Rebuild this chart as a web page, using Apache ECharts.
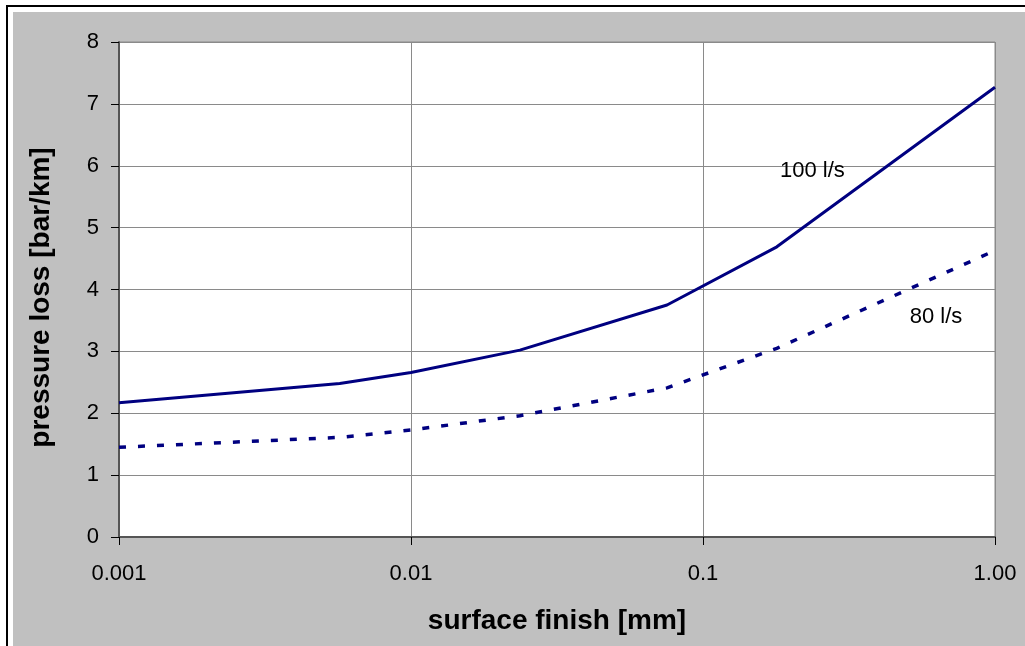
<!DOCTYPE html>
<html>
<head>
<meta charset="utf-8">
<script src="https://cdn.jsdelivr.net/npm/echarts@6/dist/echarts.min.js"></script>
<style>
  html, body { margin: 0; padding: 0; background: #fff; }
  #wrap { position: absolute; left: 0; top: 0; width: 1025px; height: 646px; overflow: hidden; background: #fff; }
  #frame { position: absolute; left: 6px; top: 5px; width: 1200px; height: 900px; border: 2px solid #000; }
  #panel { position: absolute; left: 13px; top: 12px; width: 1200px; height: 900px; background: #c0c0c0; }
  #chart { position: absolute; left: 0; top: 0; width: 1025px; height: 646px; }
</style>
</head>
<body>
<div id="wrap">
  <div id="frame"></div>
  <div id="panel"></div>
  <div id="chart"></div>
</div>
<script>
// Pressure loss per km versus pipe surface finish, for two flow rates
const roughness = [0.001, 0.0057, 0.01, 0.0236, 0.0753, 0.179, 1.0];   // mm
const loss100 = [2.17, 2.48, 2.66, 3.02, 3.75, 4.69, 7.27];            // bar/km at 100 l/s
const loss80 = [1.45, 1.61, 1.73, 1.96, 2.41, 3.05, 4.63];             // bar/km at 80 l/s

const xTickLabels = ['0.001', '0.01', '0.1', '1.00'];
const yTickLabels = ['0', '1', '2', '3', '4', '5', '6', '7', '8'];

const seriesNames = ['100 l/s', '80 l/s'];
// where each flow-rate caption sits, in data units (mm, bar/km)
const captionAnchors = [[0.237, 5.92], [0.628, 3.556]];

const FONT = 'Arial, "Liberation Sans", Helvetica, sans-serif';
const NAVY = '#000080';

function pairs(xs, ys) { return xs.map((x, i) => [x, ys[i]]); }

function caption(i) {
  return {
    silent: true,
    symbol: 'rect',
    symbolSize: 1,
    itemStyle: { color: 'rgba(0,0,0,0)' },
    label: {
      show: true,
      position: 'inside',
      formatter: p => p.name,
      color: '#000',
      fontFamily: FONT,
      fontSize: 22
    },
    data: [{ name: seriesNames[i], coord: captionAnchors[i] }]
  };
}

const chart = echarts.init(document.getElementById('chart'), null, { renderer: 'canvas' });

chart.setOption({
  backgroundColor: 'transparent',
  animation: false,
  grid: {
    left: 119, top: 42, right: 30, bottom: 109,
    show: true,
    backgroundColor: '#fff',
    borderColor: '#8a8a8a',
    borderWidth: 1
  },
  xAxis: {
    type: 'log',
    logBase: 10,
    min: 0.001,
    max: 1,
    name: 'surface finish [mm]',
    nameLocation: 'middle',
    nameGap: 70,
    nameTextStyle: { fontFamily: FONT, fontSize: 28, fontWeight: 'bold', color: '#000' },
    axisLine: { show: true, lineStyle: { color: '#555', width: 2 } },
    axisTick: { show: true, inside: false, length: 8, lineStyle: { color: '#000', width: 1 } },
    minorTick: { show: false },
    axisLabel: {
      margin: 26,
      fontFamily: FONT,
      fontSize: 22,
      color: '#000',
      formatter: v => xTickLabels[Math.round(Math.log10(v)) + 3]
    },
    splitLine: { show: true, lineStyle: { color: '#8a8a8a', width: 1 } }
  },
  yAxis: {
    type: 'value',
    min: 0,
    max: 8,
    interval: 1,
    name: 'pressure loss [bar/km]',
    nameLocation: 'middle',
    nameGap: 64,
    nameTextStyle: { fontFamily: FONT, fontSize: 28, fontWeight: 'bold', color: '#000', padding: [0, 16, 0, 0] },
    axisLine: { show: true, lineStyle: { color: '#555', width: 2 } },
    axisTick: { show: true, inside: false, length: 8, lineStyle: { color: '#000', width: 1 } },
    axisLabel: {
      margin: 20,
      fontFamily: FONT,
      fontSize: 22,
      color: '#000',
      formatter: v => yTickLabels[Math.round(v)]
    },
    splitLine: { show: true, lineStyle: { color: '#8a8a8a', width: 1 } }
  },
  series: [
    {
      name: seriesNames[0],
      type: 'line',
      data: pairs(roughness, loss100),
      symbol: 'none',
      smooth: false,
      lineStyle: { color: NAVY, width: 3 },
      markPoint: caption(0),
      z: 3
    },
    {
      name: seriesNames[1],
      type: 'line',
      data: pairs(roughness, loss80),
      symbol: 'none',
      smooth: false,
      lineStyle: { color: NAVY, width: 3.5, type: [7, 12] },
      markPoint: caption(1),
      z: 3
    }
  ]
});
</script>
</body>
</html>
